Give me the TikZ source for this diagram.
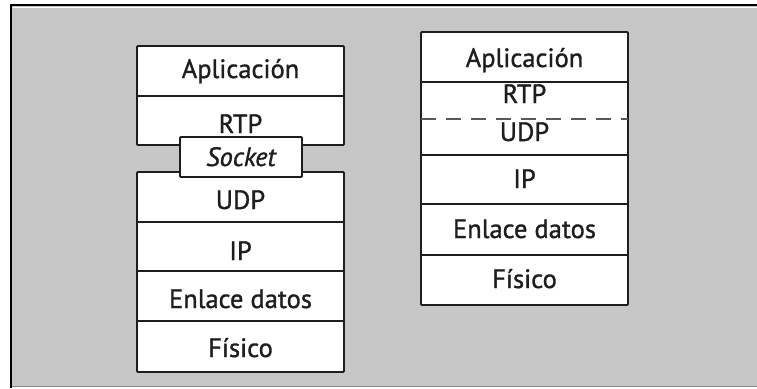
\documentclass[tikz,border=0pt]{standalone}
\usepackage{fontspec}
\setmainfont{PT Sans}
\newfontfamily\layerfont[FakeBold=1.2]{PT Sans}
\definecolor{panelgray}{HTML}{C6C6C6}
\definecolor{edgegray}{HTML}{8A8A8A}
\definecolor{inkdark}{HTML}{1E1E1E}
\begin{document}
\begin{tikzpicture}[x=1pt,y=-1pt,
  layer/.style={draw=inkdark, line width=1.8pt, fill=white, rounded corners=1pt},
  divider/.style={draw=inkdark, line width=1.8pt},
  splitline/.style={draw=black!65, line width=1.8pt, dash pattern=on 15pt off 10pt},
  lbl/.style={anchor=base, inner sep=0pt, font=\layerfont\fontsize{26.5}{30}\selectfont, text=inkdark},
]
\useasboundingbox (0,0) rectangle (757,388);

% panel background and frame
\fill[panelgray] (11,5) rectangle (757,387);
\draw[edgegray, line width=1.5pt] (11,386.5) -- (757,386.5);
\draw[line width=2.6pt, line cap=rect] (11,387) -- (11,5) -- (757,5);
\draw[white, line width=1pt] (12.5,7) -- (757,7);

% left stack: application part
\filldraw[layer] (137,46) rectangle (344,145);
\draw[divider] (137,96) -- (344,96);
% left stack: transport and below
\filldraw[layer] (137,172) rectangle (344,372);
\draw[divider] (137,222) -- (344,222);
\draw[divider] (137,271) -- (344,271);
\draw[divider] (137,321) -- (344,321);
% socket interface between them
\filldraw[layer] (180,137) rectangle (302,177);

\node[lbl] (lapp)  at (240.5,78)  {Aplicación};
\node[lbl] (lrtp)  at (240.5,133) {RTP};
\node[lbl] (lsock) at (241,166)   {\itshape Socket};
\node[lbl] (ludp)  at (240.5,209) {UDP};
\node[lbl] (lip)   at (240.5,260) {IP};
\node[lbl] (llink) at (240.5,308) {Enlace datos};
\node[lbl] (lphy)  at (240.5,357) {Físico};

% right stack
\filldraw[layer] (421,32) rectangle (628,305);
\draw[divider] (421,82) -- (628,82);
\draw[splitline] (421,119) -- (628,119);
\draw[divider] (421,155) -- (628,155);
\draw[divider] (421,204) -- (628,204);
\draw[divider] (421,255) -- (628,255);

\node[lbl] (rapp)  at (524.5,67)  {Aplicación};
\node[lbl] (rrtp)  at (524.5,103) {RTP};
\node[lbl] (rudp)  at (524.5,141) {UDP};
\node[lbl] (rip)   at (524.5,188) {IP};
\node[lbl] (rlink) at (524.5,238) {Enlace datos};
\node[lbl] (rphy)  at (524.5,288) {Físico};
\end{tikzpicture}
\end{document}
